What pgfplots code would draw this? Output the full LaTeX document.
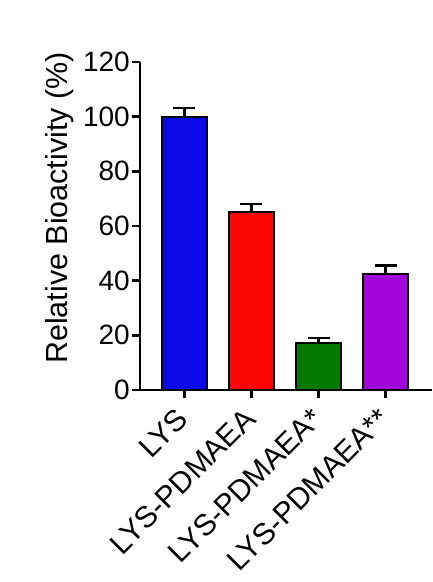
\documentclass[border=0pt]{standalone}
\usepackage{fontspec}
\setmainfont{Liberation Sans}
\usepackage{pgfplots}
\pgfplotsset{compat=1.18}
\definecolor{barblue}{RGB}{10,10,232}
\definecolor{barred}{RGB}{252,5,5}
\definecolor{bargreen}{RGB}{0,122,0}
\definecolor{barpurple}{RGB}{160,5,220}
\begin{document}
\begin{tikzpicture}
\begin{axis}[
    scale only axis,
    width=292pt, height=328pt,
    xmin=-0.66, xmax=3.69,
    ymin=0, ymax=120,
    axis x line*=bottom, axis y line*=left,
    axis line style={line width=2.5pt, black},
    ytick={0,20,40,60,80,100,120},
    xtick={0,1,2,3},
    xticklabels={LYS, LYS-PDMAEA, LYS-PDMAEA*, LYS-PDMAEA**},
    tick align=outside,
    major tick length=8pt,
    tick style={line width=2.5pt, black},
    font=\fontsize{28}{32}\selectfont,
    /pgf/number format/assume math mode=true,
    yticklabel style={inner sep=2pt, anchor=east},
    xticklabel style={rotate=45, anchor=east, inner sep=2pt, font=\fontsize{30}{34}\selectfont},
    xticklabel shift=14pt,
    ylabel={Relative Bioactivity (\%)},
    ylabel style={at={(axis description cs:-0.277,0.555)}, anchor=center, font=\fontsize{30.5}{34}\selectfont},
    ybar, bar width=44.5pt,
    every axis plot/.append style={bar shift=0pt, draw=black, line width=2pt},
    error bars/y dir=plus,
    error bars/y explicit,
    error bars/error bar style={line width=2.5pt, black},
    error bars/error mark options={rotate=90, line width=2.5pt, black, mark size=11pt},
]
\addplot[fill=barblue] coordinates {(0,100) +- (0,3.1)};
\addplot[fill=barred] coordinates {(1,65.2) +- (0,2.9)};
\addplot[fill=bargreen] coordinates {(2,17.1) +- (0,1.9)};
\addplot[fill=barpurple] coordinates {(3,42.3) +- (0,3.2)};
\end{axis}
\pgfresetboundingbox
\path (-140pt,-192pt) rectangle (292pt,390pt);
\end{tikzpicture}
\end{document}
